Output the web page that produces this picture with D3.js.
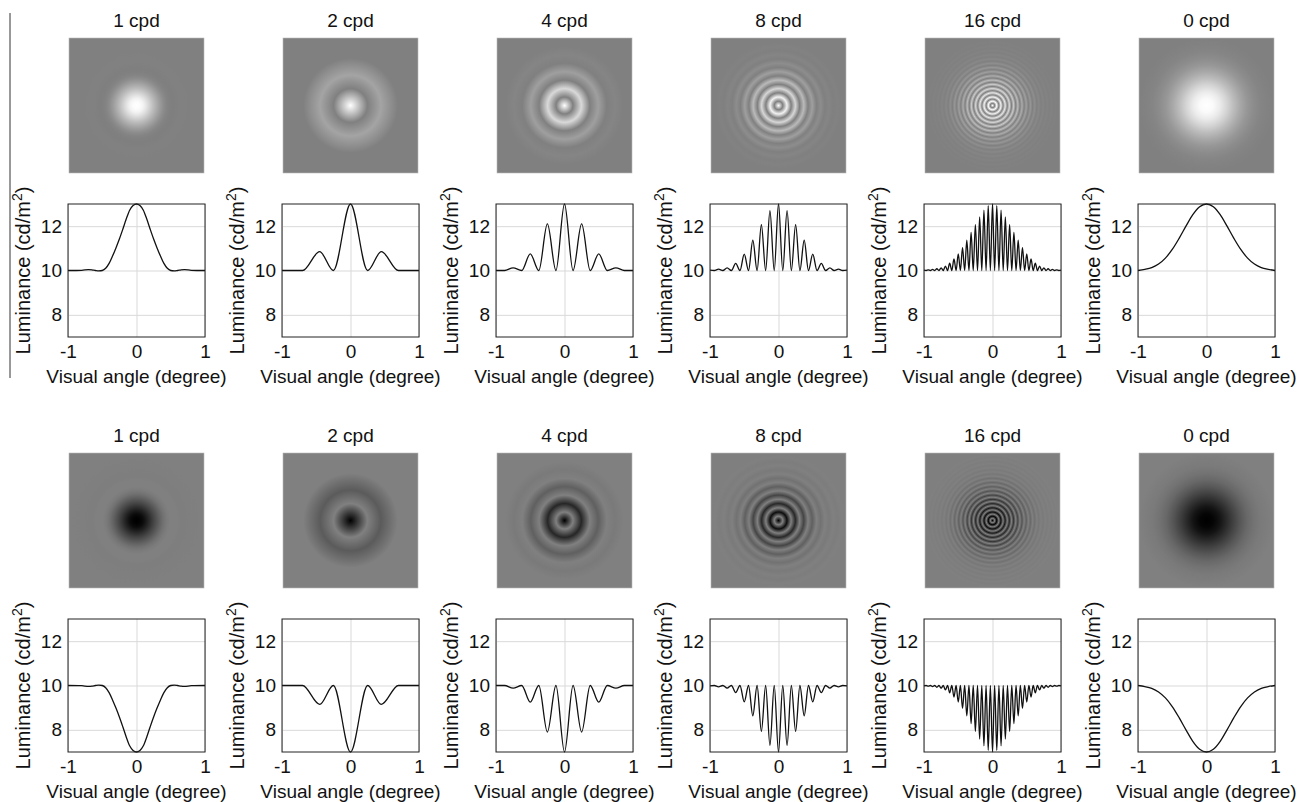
<!DOCTYPE html>
<html>
<head>
<meta charset="utf-8">
<script src="https://cdnjs.cloudflare.com/ajax/libs/d3/7.8.5/d3.min.js"></script>
<style>
	body { margin: 0; background: #fff; }
	text { font-family: 'Liberation Sans', Arial, sans-serif; fill: #111; }
</style>
</head>
<body>
<svg id="chart" width="1307" height="802"></svg>
<script>
(function (d3) {
	'use strict';

	var titles = ['1 cpd', '2 cpd', '4 cpd', '8 cpd', '16 cpd', '0 cpd'];
	var xTicks = [-1, 0, 1];
	var yTicks = [8, 10, 12];
	var background = 10;
	// upper row = luminance increment, lower row = decrement
	var rowSigns = [1, -1];

	// half profiles, centre outwards: visual angle (deg) and change from background (cd/m2)
	var angle1 = [0, 0.05, 0.1, 0.15, 0.2, 0.25, 0.3, 0.35, 0.4, 0.45, 0.5, 0.55, 0.6, 0.65, 0.7, 0.8, 1];
	var delta1 = [3, 2.93, 2.72, 2.32, 1.86, 1.42, 1.02, 0.65, 0.32, 0.1, 0, -0.02, 0, 0.03, 0.04, 0.01, 0];

	var angle2 = [0, 0.25, 0.45, 0.7, 1];
	var delta2 = [3, 0, 0.85, 0, 0];

	var angle4 = [0, 0.125, 0.25, 0.375, 0.5, 0.625, 0.75, 0.875, 1];
	var delta4 = [3, 0, 2.1, 0, 0.75, 0, 0.12, 0, 0];

	var angle8 = [0, 0.0625, 0.125, 0.1875, 0.25, 0.3125, 0.375, 0.4375, 0.5, 0.5625, 0.625, 0.6875,
		0.75, 0.8125, 0.875, 0.9375, 1];
	var delta8 = [3, 0, 2.7, 0, 2.07, 0, 1.37, 0, 0.74, 0, 0.32, 0, 0.12, 0, 0.06, 0, 0.02];

	var angle16 = [0, 0.03125, 0.0625, 0.09375, 0.125, 0.15625, 0.1875, 0.21875, 0.25, 0.28125, 0.3125,
		0.34375, 0.375, 0.40625, 0.4375, 0.46875, 0.5, 0.53125, 0.5625, 0.59375, 0.625, 0.65625, 0.6875,
		0.71875, 0.75, 0.78125, 0.8125, 0.84375, 0.875, 0.90625, 0.9375, 0.96875, 1];
	var delta16 = [3, 0, 2.92, 0, 2.72, 0, 2.42, 0, 2.07, 0, 1.72, 0, 1.37, 0, 1.03, 0, 0.75, 0, 0.52, 0,
		0.33, 0, 0.2, 0, 0.12, 0, 0.08, 0, 0.05, 0, 0.03, 0, 0.02];

	var angle0 = [0, 0.1, 0.2, 0.3, 0.4, 0.5, 0.6, 0.7, 0.8, 0.9, 1];
	var delta0 = [3, 2.88, 2.52, 2.0, 1.45, 0.95, 0.56, 0.29, 0.13, 0.05, 0];

	var profiles = [
		{angle: angle1, delta: delta1},
		{angle: angle2, delta: delta2},
		{angle: angle4, delta: delta4},
		{angle: angle8, delta: delta8},
		{angle: angle16, delta: delta16},
		{angle: angle0, delta: delta0}
	];

	// layout
	var firstLeft = 68, colStep = 214, rowStep = 415;
	var plotW = 137, plotH = 133, plotTop = 204;
	var imgTop = 38, imgSize = 135;
	var fontSize = 19;

	var svg = d3.select('#chart');
	var defs = svg.append('defs');

	var grey = d3.scaleLinear().domain([7, 13]).range([0, 255]).clamp(true);
	function greyColour(v) {
		var g = Math.round(grey(v));
		return d3.rgb(g, g, g).toString();
	}

	function fullProfile(p, sign) {
		var pts = [];
		var i;
		for (i = p.angle.length - 1; i > 0; i--) {
			pts.push({x: -p.angle[i], y: background + sign * p.delta[i]});
		}
		for (i = 0; i < p.angle.length; i++) {
			pts.push({x: p.angle[i], y: background + sign * p.delta[i]});
		}
		return pts;
	}

	// thin frame line on the left edge of the upper row
	svg.append('line')
		.attr('x1', 10).attr('x2', 10)
		.attr('y1', 13).attr('y2', 378)
		.attr('stroke', '#333').attr('stroke-width', 1);

	rowSigns.forEach(function (sign, r) {
		var dy = r * rowStep;

		titles.forEach(function (title, c) {
			var left = firstLeft + c * colStep;
			var prof = profiles[c];
			var gid = 'stim' + r + '_' + c;

			// stimulus image as radial gradient over +-1 deg
			var grad = defs.append('radialGradient')
				.attr('id', gid)
				.attr('gradientUnits', 'userSpaceOnUse')
				.attr('cx', left + 1 + imgSize / 2)
				.attr('cy', dy + imgTop + imgSize / 2)
				.attr('r', imgSize / 2);
			prof.angle.forEach(function (a, i) {
				grad.append('stop')
					.attr('offset', a)
					.attr('stop-color', greyColour(background + sign * prof.delta[i]));
			});

			svg.append('text')
				.attr('x', left + plotW / 2)
				.attr('y', dy + 27)
				.attr('text-anchor', 'middle')
				.attr('font-size', fontSize)
				.text(title);

			svg.append('rect')
				.attr('x', left + 1)
				.attr('y', dy + imgTop)
				.attr('width', imgSize)
				.attr('height', imgSize)
				.attr('fill', 'url(#' + gid + ')')
				.attr('stroke', '#b8b8b8')
				.attr('stroke-width', 0.6);

			// profile plot
			var g = svg.append('g')
				.attr('transform', 'translate(' + left + ',' + (dy + plotTop) + ')');

			var x = d3.scaleLinear().domain([-1, 1]).range([0, plotW]);
			var y = d3.scaleLinear().domain([7, 13]).range([plotH, 0]);

			var gridX = g.append('g')
				.attr('transform', 'translate(0,' + plotH + ')')
				.call(d3.axisBottom(x).tickValues(xTicks).tickSize(-plotH).tickFormat(''));
			var gridY = g.append('g')
				.call(d3.axisLeft(y).tickValues(yTicks).tickSize(-plotW).tickFormat(''));
			[gridX, gridY].forEach(function (gr) {
				gr.select('.domain').remove();
				gr.selectAll('line').attr('stroke', '#d9d9d9').attr('stroke-width', 1);
			});

			var axX = g.append('g')
				.attr('transform', 'translate(0,' + plotH + ')')
				.call(d3.axisBottom(x).tickValues(xTicks).tickSize(0).tickPadding(8)
					.tickFormat(function (d) { return String(d); }));
			var axY = g.append('g')
				.call(d3.axisLeft(y).tickValues(yTicks).tickSize(0).tickPadding(6)
					.tickFormat(function (d) { return String(d); }));
			[axX, axY].forEach(function (ax) {
				ax.select('.domain').remove();
				ax.attr('font-family', null).attr('font-size', fontSize);
				ax.selectAll('text').attr('fill', '#111');
			});

			var line = d3.line()
				.x(function (d) { return x(d.x); })
				.y(function (d) { return y(d.y); })
				.curve(d3.curveMonotoneX);

			g.append('path')
				.datum(fullProfile(prof, sign))
				.attr('fill', 'none')
				.attr('stroke', '#111')
				.attr('stroke-width', 1.3)
				.attr('d', line);

			g.append('rect')
				.attr('width', plotW)
				.attr('height', plotH)
				.attr('fill', 'none')
				.attr('stroke', '#222')
				.attr('stroke-width', 1);

			g.append('text')
				.attr('x', plotW / 2)
				.attr('y', plotH + 46)
				.attr('text-anchor', 'middle')
				.attr('font-size', fontSize)
				.text('Visual angle (degree)');

			var yl = g.append('text')
				.attr('transform', 'translate(-38,' + (plotH / 2) + ') rotate(-90)')
				.attr('text-anchor', 'middle')
				.attr('font-size', 20);
			yl.append('tspan').text('Luminance (cd/m');
			yl.append('tspan').attr('font-size', 14).attr('dy', -8).text('2');
			yl.append('tspan').attr('dy', 8).text(')');
		});
	});
})(d3);
</script>
</body>
</html>
